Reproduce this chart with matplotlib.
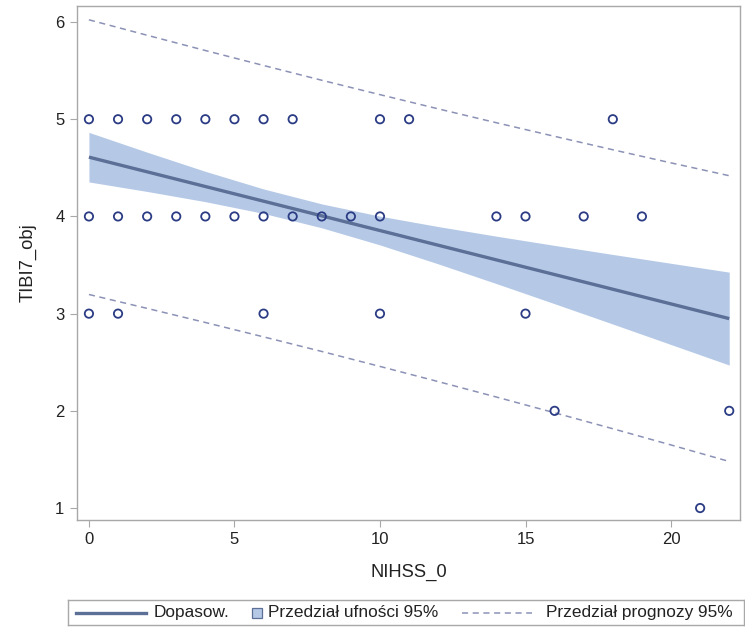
import matplotlib
matplotlib.use("Agg")
import matplotlib.pyplot as plt
from matplotlib.patches import Rectangle
from matplotlib.lines import Line2D

plt.rcParams['font.family'] = ['Liberation Sans', 'DejaVu Sans']

# Observed (NIHSS_0, TIBI7_obj) pairs
obs_x = [0, 1, 2, 3, 4, 5, 6, 7, 10, 11, 18,
         0, 1, 2, 3, 4, 5, 6, 7, 8, 9, 10, 14, 15, 17, 19,
         0, 1, 6, 10, 15,
         16, 22,
         21]
obs_y = [5, 5, 5, 5, 5, 5, 5, 5, 5, 5, 5,
         4, 4, 4, 4, 4, 4, 4, 4, 4, 4, 4, 4, 4, 4, 4,
         3, 3, 3, 3, 3,
         2, 2,
         1]

# Regression fit with confidence and prediction limits
grid_x = [0, 2, 4, 6, 8, 10, 12, 14, 16, 18, 20, 22]
fit_y = [4.610, 4.459, 4.308, 4.157, 4.006, 3.855, 3.704, 3.553, 3.402, 3.251, 3.100, 2.949]
clm_upper = [4.865, 4.661, 4.464, 4.283, 4.129, 4.003, 3.896, 3.797, 3.702, 3.609, 3.518, 3.427]
clm_lower = [4.355, 4.257, 4.152, 4.031, 3.883, 3.707, 3.512, 3.309, 3.102, 2.893, 2.682, 2.471]
pi_upper = [6.023, 5.864, 5.707, 5.553, 5.401, 5.253, 5.107, 4.964, 4.824, 4.686, 4.551, 4.419]
pi_lower = [3.197, 3.054, 2.909, 2.761, 2.611, 2.457, 2.301, 2.142, 1.980, 1.816, 1.649, 1.479]

x_ticks = [0, 5, 10, 15, 20]
y_ticks = [1, 2, 3, 4, 5, 6]
legend_labels = ['Dopasow.', 'Przedział ufności 95%', 'Przedział prognozy 95%']

band_color = '#b5c9e6'
fit_color = '#5b6f97'
pred_color = '#8c92b6'
marker_color = '#2b3c84'
frame_color = '#a8a8a8'
text_color = '#222222'
dash = (0, (4, 3))

W, H = 745, 628
fig = plt.figure(figsize=(W / 100, H / 100), dpi=100)


def px_rect(x0, y0, x1, y1):
    """Axes rectangle from pixel edges (y measured from the top)."""
    return [x0 / W, 1 - y1 / H, (x1 - x0) / W, (y1 - y0) / H]


ax = fig.add_axes(px_rect(77, 6, 740, 520))

ax.fill_between(grid_x, clm_lower, clm_upper, color=band_color, linewidth=0, zorder=1)
ax.plot(grid_x, fit_y, color=fit_color, linewidth=2.4, zorder=2, solid_capstyle='butt')
ax.plot(grid_x, pi_upper, color=pred_color, linewidth=1.1, linestyle=dash, zorder=2)
ax.plot(grid_x, pi_lower, color=pred_color, linewidth=1.1, linestyle=dash, zorder=2)
ax.scatter(obs_x, obs_y, s=36, facecolors='none', edgecolors=marker_color,
           linewidths=1.3, zorder=3)

ax.set_xlim(-0.41, 22.37)
ax.set_ylim(0.877, 6.165)
ax.set_xticks(x_ticks)
ax.set_yticks(y_ticks)

for sp in ax.spines.values():
    sp.set_color(frame_color)
    sp.set_linewidth(1.0)
ax.tick_params(axis='both', direction='out', length=5, width=0.8,
               color=frame_color, labelsize=12, labelcolor=text_color, pad=4)

ax.set_xlabel('NIHSS_0', fontsize=13.2, color=text_color, labelpad=12)
ax.set_ylabel('TIBI7_obj', fontsize=13.2, color=text_color, labelpad=13)

# Legend box below the plot
lax = fig.add_axes(px_rect(68, 600, 744, 625))
lax.set_xlim(68, 744)
lax.set_ylim(0, 1)
lax.set_xticks([])
lax.set_yticks([])
for sp in lax.spines.values():
    sp.set_color(frame_color)
    sp.set_linewidth(1.0)
lax.add_line(Line2D([76, 146], [0.5, 0.5], color=fit_color, linewidth=2.4))
lax.text(154, 0.5, legend_labels[0], fontsize=12.4, color=text_color, va='center', ha='left')
lax.add_patch(Rectangle((252, 0.3), 10, 0.4, facecolor=band_color,
                        edgecolor=fit_color, linewidth=0.9))
lax.text(268, 0.5, legend_labels[1], fontsize=12.4, color=text_color, va='center', ha='left')
lax.add_line(Line2D([462, 532], [0.5, 0.5], color=pred_color, linewidth=1.1, linestyle=dash))
lax.text(546, 0.5, legend_labels[2], fontsize=12.4, color=text_color, va='center', ha='left')

fig.savefig('out.png', dpi=100, facecolor='white')
